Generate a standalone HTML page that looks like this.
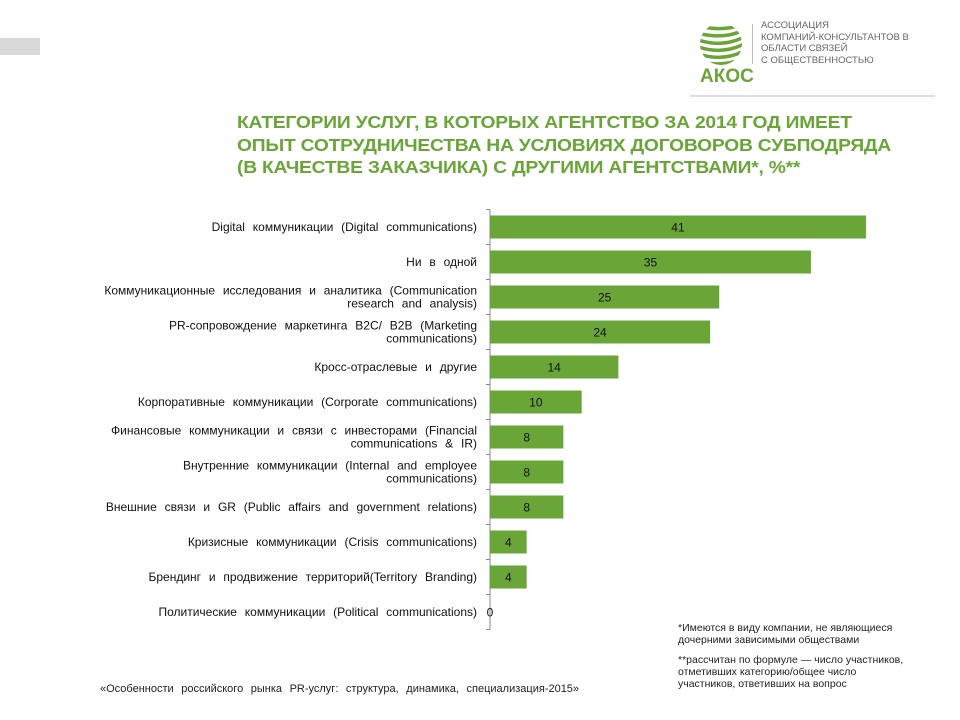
<!DOCTYPE html>
<html><head><meta charset="utf-8"><style>
body{margin:0;width:960px;height:720px;background:#fff;position:relative;overflow:hidden;font-family:"Liberation Sans",sans-serif}
.t{position:absolute}
</style></head><body>
<div class="t" style="left:0;top:38px;width:40px;height:17px;background:#d9d9d9"></div>
<svg class="t" style="left:698px;top:20px" width="50" height="50" viewBox="0 0 50 50">
<defs><clipPath id="c"><circle cx="23" cy="24" r="21"/></clipPath></defs>
<g clip-path="url(#c)" stroke="#6aa538" stroke-width="3.5" fill="none">
<path d="M0 6 Q25 12 46 4"/><path d="M0 13 Q25 20 46 10"/><path d="M0 20 Q25 28 46 17"/><path d="M0 27 Q25 35 46 24"/><path d="M0 34 Q25 42 46 31"/><path d="M0 41 Q25 48 46 38"/>
</g></svg>
<div class="t" style="left:700px;top:66px;font-size:19px;font-weight:bold;color:#6aa538">АКОС</div>
<div class="t" style="left:752px;top:24px;width:1px;height:40px;background:#bbb"></div>
<div class="t" style="left:761px;top:20px;font-size:9.5px;line-height:11.5px;color:#666">АССОЦИАЦИЯ<br>КОМПАНИЙ-КОНСУЛЬТАНТОВ В<br>ОБЛАСТИ СВЯЗЕЙ<br>С ОБЩЕСТВЕННОСТЬЮ</div>
<div class="t" style="left:690px;top:95px;width:245px;height:2px;background:#ddd"></div>
<div class="t" style="left:237px;top:111px;font-size:17.5px;line-height:22.5px;font-weight:bold;color:#6aa538;letter-spacing:-0.2px;transform-origin:0 0;transform:scaleX(1.1);white-space:nowrap">КАТЕГОРИИ УСЛУГ, В КОТОРЫХ АГЕНТСТВО ЗА 2014 ГОД ИМЕЕТ<br>ОПЫТ СОТРУДНИЧЕСТВА НА УСЛОВИЯХ ДОГОВОРОВ СУБПОДРЯДА<br>(В КАЧЕСТВЕ ЗАКАЗЧИКА) С ДРУГИМИ АГЕНТСТВАМИ*, %**</div>
<svg class="t" style="left:0;top:0" width="960" height="720" id="ch"></svg>
<div class="t" style="left:678px;top:622px;font-size:10.5px;line-height:12px;color:#222">*Имеются в виду компании, не являющиеся<br>дочерними зависимыми обществами</div>
<div class="t" style="left:678px;top:654px;font-size:10.5px;line-height:12px;color:#222">**рассчитан по формуле — число участников,<br>отметивших категорию/общее число<br>участников, ответивших на вопрос</div>
<div class="t" style="left:100px;top:683px;font-size:11px;color:#222;word-spacing:4.5px">«Особенности российского рынка PR-услуг: структура, динамика, специализация-2015»</div>
<script>
const categories=[["Digital коммуникации (Digital communications)"],["Ни в одной"],["Коммуникационные исследования и аналитика (Communication","research and analysis)"],["PR-сопровождение маркетинга B2C/ B2B (Marketing","communications)"],["Кросс-отраслевые и другие"],["Корпоративные коммуникации (Corporate communications)"],["Финансовые коммуникации и связи с инвесторами (Financial","communications & IR)"],["Внутренние коммуникации (Internal and employee","communications)"],["Внешние связи и GR (Public affairs and government relations)"],["Кризисные коммуникации (Crisis communications)"],["Брендинг и продвижение территорий(Territory Branding)"],["Политические коммуникации (Political communications)"]];
const values=[41,35,25,24,14,10,8,8,8,4,4,0];
const svg=document.getElementById('ch');const NS='http://www.w3.org/2000/svg';
const x0=490,k=9.17,top0=209.5,band=35;
const xS=v=>x0+v*k, yS=i=>top0+i*band;
function mk(t,a){const e=document.createElementNS(NS,t);for(const n in a)e.setAttribute(n,a[n]);svg.appendChild(e);return e;}
const ax=mk('line',{x1:x0,y1:top0,x2:x0,y2:yS(values.length),stroke:'#888'});


for(let i=0;i<=values.length;i++){const tk=mk('line',{x1:x0-4,y1:yS(i),x2:x0,y2:yS(i),stroke:'#888'});

}
values.forEach((v,i)=>{
 const cy=yS(i)+band/2;
 const r=mk('rect',{x:x0,y:cy-11.5,width:xS(v)-x0,height:23,fill:'#6aa538'});
 
 
 const lx=v>0?(x0+xS(v))/2:x0;
 const t=mk('text',{x:lx,y:cy+4.5,'font-size':12,'text-anchor':'middle',fill:'#111'});t.textContent=values[i];
 
 
 const lines=categories[i];
 lines.forEach((s,j)=>{const tt=mk('text',{x:477,y:cy+4-(lines.length-1)*6.5+j*13,'font-size':12,'text-anchor':'end',fill:'#111','word-spacing':'4.5px'});tt.textContent=s;
 
 });
});
</script>
</body></html>
